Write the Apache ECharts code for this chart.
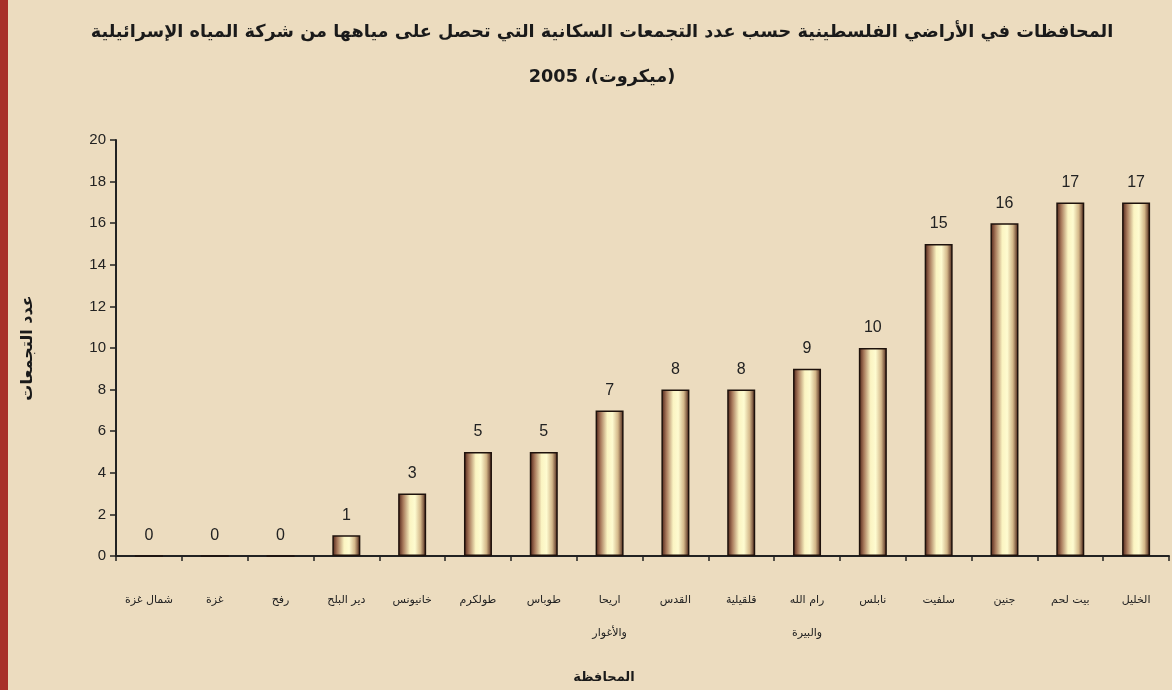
<!DOCTYPE html>
<html><head><meta charset="utf-8">
<script src="https://cdn.jsdelivr.net/npm/echarts@6/dist/echarts.min.js"></script>
<style>html,body{margin:0;padding:0;background:#ecdcbf;}#c{width:1172px;height:690px;}</style>
</head><body><div id="c"></div>
<script>
const titleLine1 = 'المحافظات في الأراضي الفلسطينية حسب عدد التجمعات السكانية التي تحصل على مياهها من شركة المياه الإسرائيلية';
const titleLine2 = '2005 ،(ميكروت)';
const categories = ['شمال غزة','غزة','رفح','دير البلح','خانيونس','طولكرم','طوباس','اريحا\nوالأغوار','القدس','قلقيلية','رام الله\nوالبيرة','نابلس','سلفيت','جنين','بيت لحم','الخليل'];
const values = [0,0,0,1,3,5,5,7,8,8,9,10,15,16,17,17];
const yTicks = [0,2,4,6,8,10,12,14,16,18,20];
const yAxisName = 'عدد التجمعات';
const xAxisName = 'المحافظة';

const chart = echarts.init(document.getElementById('c'));
chart.setOption({
  backgroundColor: '#ecdcbf',
  animation: false,
  graphic: [
    {type:'rect', left:0, top:0, shape:{width:8, height:690}, style:{fill:'#a8302a'}},
    {type:'text', x:604, y:678, style:{text:xAxisName, align:'center', verticalAlign:'middle',
      font:'bold 13px "DejaVu Sans"', fill:'#1a1a1a'}}
  ],
  title: {
    text: titleLine1 + '\n' + titleLine2, left: 597, textAlign: 'center', top: 5,
    textStyle: {fontFamily: 'DejaVu Sans', fontWeight: 'bold', fontSize: 17.7, color: '#1a1a1a', lineHeight: 45}
  },
  grid: {left: 116, right: 3, top: 140, bottom: 134},
  xAxis: {
    type: 'category', data: categories,
    axisLine: {lineStyle: {color: '#222', width: 2}},
    axisTick: {show: true, alignWithLabel: false, length: 5, lineStyle: {color: '#222', width: 1.5}},
    axisLabel: {fontFamily: 'DejaVu Sans', fontSize: 11, color: '#222', margin: 28, lineHeight: 33, interval: 0, verticalAlign: 'top'}
  },
  yAxis: {
    type: 'value', min: 0, max: 20, interval: 2,
    name: yAxisName, nameLocation: 'middle', nameGap: 80, nameRotate: 90,
    nameTextStyle: {fontFamily: 'DejaVu Sans', fontWeight: 'bold', fontSize: 16, color: '#1a1a1a'},
    axisLine: {show: true, lineStyle: {color: '#222', width: 2}},
    axisTick: {show: true, length: 6, lineStyle: {color: '#222', width: 1.5}},
    splitLine: {show: false},
    axisLabel: {fontFamily: 'Liberation Sans', fontSize: 15, color: '#222', margin: 10,
      formatter: v => yTicks.includes(v) ? String(v) : ''}
  },
  series: [{
    type: 'bar', data: values, barWidth: 28,
    itemStyle: {
      borderColor: '#1e120c', borderWidth: 1.5,
      color: new echarts.graphic.LinearGradient(0,0,1,0,[
        {offset:0, color:'#4a1c12'},
        {offset:0.18, color:'#a87a5c'},
        {offset:0.42, color:'#fbf4c2'},
        {offset:0.6, color:'#fefbd0'},
        {offset:0.8, color:'#d4b88a'},
        {offset:1, color:'#42180f'}
      ])
    },
    label: {show: true, position: 'top', distance: 12, fontFamily: 'Liberation Sans', fontSize: 16, color: '#222'}
  }]
});
</script></body></html>
